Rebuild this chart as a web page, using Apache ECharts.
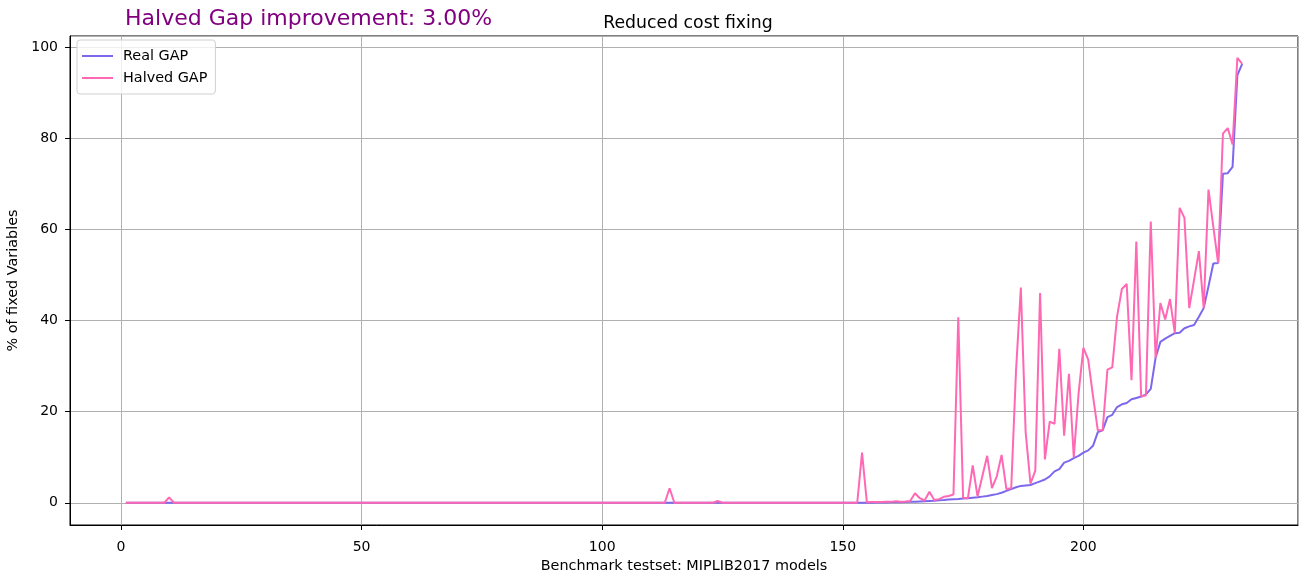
<!DOCTYPE html>
<html>
<head>
<meta charset="utf-8">
<script src="https://cdn.jsdelivr.net/npm/echarts@6/dist/echarts.min.js"></script>
<style>
html,body{margin:0;padding:0;background:#fff;}
#c{width:1299px;height:575px;}
</style>
</head>
<body>
<div id="c"></div>
<script>
// Real GAP values, models 1..233
const realGap = [
0,0,0,0,0,0,0,0,0,0,
0,0,0,0,0,0,0,0,0,0,
0,0,0,0,0,0,0,0,0,0,
0,0,0,0,0,0,0,0,0,0,
0,0,0,0,0,0,0,0,0,0,
0,0,0,0,0,0,0,0,0,0,
0,0,0,0,0,0,0,0,0,0,
0,0,0,0,0,0,0,0,0,0,
0,0,0,0,0,0,0,0,0,0,
0,0,0,0,0,0,0,0,0,0,
0,0,0,0,0,0,0,0,0,0,
0,0,0,0,0,0,0,0,0,0,
0,0,0,0,0,0,0,0,0,0,
0,0,0,0,0,0,0,0,0,0,
0,0,0,0,0,0,0,0,0,0,
0,0,0,0,0.02,0.03,0.05,0.06,0.08,0.1,
0.12,0.14,0.16,0.2,0.25,0.3,0.35,0.4,0.45,0.55,
0.6,0.7,0.8,0.85,0.95,1.0,1.1,1.2,1.35,1.5,
1.7,1.9,2.2,2.6,3.0,3.4,3.7,3.8,3.9,4.3,
4.7,5.1,5.8,6.9,7.4,8.8,9.2,9.8,10.3,11.0,
11.5,12.5,15.5,15.9,18.8,19.3,21.0,21.6,21.9,22.7,
23.0,23.3,23.8,25.0,31.8,35.3,36.0,36.6,37.2,37.3,
38.3,38.7,39.0,40.8,42.7,47.5,52.5,52.6,72.2,72.3,
73.7,93.8,96.3
];
// Halved GAP values, models 1..233
const halvedGap = [
0,0,0,0,0,0,0,0,0,1.2,
0,0,0,0,0,0,0,0,0,0,
0,0,0,0,0,0,0,0,0,0,
0,0,0,0,0,0,0,0,0,0,
0,0,0,0,0,0,0,0,0,0,
0,0,0,0,0,0,0,0,0,0,
0,0,0,0,0,0,0,0,0,0,
0,0,0,0,0,0,0,0,0,0,
0,0,0,0,0,0,0,0,0,0,
0,0,0,0,0,0,0,0,0,0,
0,0,0,0,0,0,0,0,0,0,
0,0,0,3.2,0,0,0,0,0,0,
0,0,0,0.4,0,0,0,0,0,0,
0,0,0,0,0,0,0,0,0,0,
0,0,0,0,0,0,0,0,0,0,
0,0,0,11.0,0.1,0.15,0.15,0.15,0.2,0.2,
0.35,0.25,0.3,0.4,2.1,1.0,0.5,2.4,0.6,0.8,
1.3,1.5,1.8,40.7,1.1,1.0,8.2,1.4,5.8,10.3,
3.2,5.8,10.5,3.0,3.2,29.0,47.2,15.5,4.2,7.0,
46.0,9.5,17.8,17.3,33.8,14.7,28.3,10.0,24.0,34.0,
31.4,23.4,15.9,15.9,29.2,29.7,40.9,46.9,48.0,26.9,
57.3,23.3,23.6,61.7,31.8,43.8,40.2,44.7,37.2,64.7,
62.5,42.7,48.9,55.2,42.7,68.7,60.6,52.6,81.0,82.2,
78.6,97.6,96.3
];
const seriesNames = ['Real GAP', 'Halved GAP'];
const chartTitle = 'Reduced cost fixing';
const improvementText = 'Halved Gap improvement: 3.00%';
const xName = 'Benchmark testset: MIPLIB2017 models';
const yName = '% of fixed Variables';

const toPairs = arr => arr.map((v, i) => [i + 1, v]);
const FONT = 'DejaVu Sans';

const chart = echarts.init(document.getElementById('c'), null, {renderer: 'canvas'});
chart.setOption({
  animation: false,
  backgroundColor: '#ffffff',
  textStyle: {fontFamily: FONT},
  title: [
    {text: chartTitle, left: 683, top: 10, textAlign: 'center',
     textStyle: {fontFamily: FONT, fontSize: 17.3, fontWeight: 'normal', color: '#000'}},
    {text: improvementText, left: 120, top: 3,
     textStyle: {fontFamily: FONT, fontSize: 22, fontWeight: 'normal', color: '#800080'}}
  ],
  legend: {
    orient: 'vertical', left: 77, top: 40,
    data: seriesNames,
    icon: 'rect', itemWidth: 31, itemHeight: 2, itemGap: 6,
    backgroundColor: 'rgba(255,255,255,0.8)', borderColor: '#d0d0d0', borderWidth: 1, borderRadius: 3,
    padding: [8, 8, 8, 5],
    textStyle: {fontFamily: FONT, fontSize: 14.4, color: '#000', padding: [0, 0, 0, 5], lineHeight: 16}
  },
  grid: {left: 70, right: 1, top: 36, bottom: 50, show: true, borderColor: '#000', borderWidth: 1,
         backgroundColor: 'transparent', containLabel: false, outerBoundsMode: 'none'},
  xAxis: {
    type: 'value', min: -10.6, max: 244.6, splitNumber: 5,
    name: xName, nameLocation: 'middle', nameGap: 31,
    nameTextStyle: {fontFamily: FONT, fontSize: 14.4, color: '#000'},
    axisLine: {show: true, onZero: false, lineStyle: {color: '#000', width: 1}},
    axisTick: {show: true, length: 5, lineStyle: {color: '#000'}},
    axisLabel: {fontFamily: FONT, fontSize: 14, color: '#000', margin: 15,
      showMinLabel: false, showMaxLabel: false,
      formatter: v => (Math.abs(v % 50) < 1e-9 ? String(v) : '')},
    splitLine: {show: true, lineStyle: {color: '#b0b0b0', width: 1}}
  },
  yAxis: {
    type: 'value', min: -4.875, max: 102.4, splitNumber: 5,
    name: yName, nameLocation: 'middle', nameGap: 44,
    nameTextStyle: {fontFamily: FONT, fontSize: 14.4, color: '#000'},
    axisLine: {show: true, onZero: false, lineStyle: {color: '#000', width: 1}},
    axisTick: {show: true, length: 5, lineStyle: {color: '#000'}},
    axisLabel: {fontFamily: FONT, fontSize: 14, color: '#000', margin: 12,
      showMinLabel: false, showMaxLabel: false,
      formatter: v => (Math.abs(v % 20) < 1e-9 ? String(v) : '')},
    splitLine: {show: true, lineStyle: {color: '#b0b0b0', width: 1}}
  },
  series: [
    {name: seriesNames[0], type: 'line', data: toPairs(realGap), showSymbol: false,
     lineStyle: {color: '#7B68EE', width: 2}, itemStyle: {color: '#7B68EE'}},
    {name: seriesNames[1], type: 'line', data: toPairs(halvedGap), showSymbol: false,
     lineStyle: {color: '#FF69B4', width: 2}, itemStyle: {color: '#FF69B4'}}
  ]
});
</script>
</body>
</html>
